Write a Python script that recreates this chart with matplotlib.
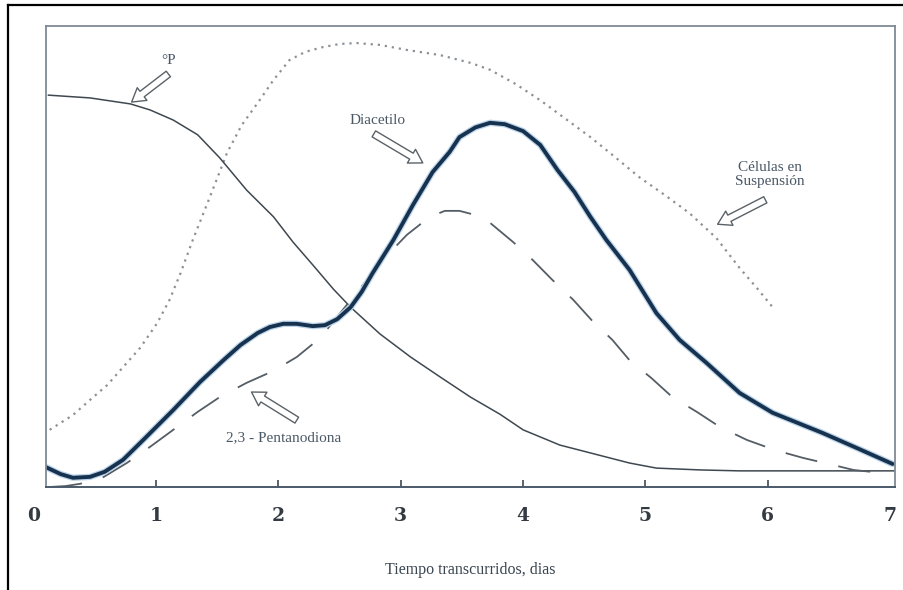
import matplotlib
matplotlib.use("Agg")
import matplotlib.pyplot as plt
from matplotlib.lines import Line2D

# curves (days, relative level 0-100)
p_x = [0.12, 0.46, 0.79, 0.95, 1.14, 1.34, 1.52, 1.74, 1.96, 2.12, 2.28, 2.45, 2.59, 2.83, 3.08,
       3.32, 3.57, 3.81, 4.00, 4.30, 4.68, 4.87, 5.09, 5.45, 5.77, 7.04]
p_y = [85.0, 84.4, 83.1, 81.8, 79.6, 76.4, 71.4, 64.4, 58.6, 53.1, 48.2, 42.9, 39.0, 33.2, 28.2,
       23.9, 19.5, 15.8, 12.4, 9.1, 6.5, 5.2, 4.1, 3.7, 3.5, 3.5]

dia_x = [0.10, 0.22, 0.32, 0.46, 0.58, 0.73, 0.91, 1.14, 1.36, 1.55, 1.69, 1.83, 1.93, 2.04, 2.15,
         2.28, 2.38, 2.48, 2.59, 2.68, 2.77, 2.94, 3.10, 3.26, 3.40, 3.48, 3.61, 3.73, 3.85, 4.00,
         4.14, 4.28, 4.42, 4.55, 4.68, 4.87, 5.09, 5.28, 5.50, 5.77, 6.04, 6.45, 6.75, 7.02]
dia_y = [4.3, 2.8, 2.0, 2.2, 3.3, 5.9, 10.6, 16.7, 22.8, 27.5, 30.8, 33.4, 34.7, 35.4, 35.4,
         34.9, 35.1, 36.4, 39.0, 42.3, 46.4, 53.6, 61.2, 68.3, 72.7, 75.9, 78.0, 79.0, 78.7, 77.2,
         74.2, 68.8, 64.0, 58.6, 53.6, 47.1, 37.7, 31.9, 26.9, 20.4, 16.1, 11.7, 8.2, 5.0]

pen_x = [0.13, 0.26, 0.38, 0.56, 0.76, 0.95, 1.14, 1.34, 1.52, 1.74, 1.96, 2.15, 2.34, 2.48, 2.61,
         2.79, 2.93, 3.05, 3.16, 3.24, 3.36, 3.48, 3.61, 3.73, 3.92, 4.08, 4.24, 4.41, 4.56, 4.73,
         4.87, 5.05, 5.22, 5.42, 5.61, 5.83, 6.06, 6.29, 6.53, 6.70, 6.84]
pen_y = [0.0, 0.2, 0.7, 2.0, 5.2, 8.7, 12.4, 16.3, 19.5, 22.6, 25.2, 28.2, 32.3, 36.9, 41.2,
         47.1, 51.4, 54.7, 57.0, 58.6, 59.9, 59.9, 59.0, 57.3, 53.1, 49.2, 44.9, 40.6, 36.2, 31.9,
         27.5, 23.6, 19.5, 16.3, 13.0, 10.2, 8.0, 6.3, 4.8, 3.7, 3.3]

cel_x = [0.13, 0.32, 0.46, 0.60, 0.73, 0.87, 1.01, 1.11, 1.20, 1.30, 1.42, 1.50, 1.58, 1.70, 1.83,
         1.96, 2.09, 2.22, 2.36, 2.50, 2.64, 2.83, 3.05, 3.32, 3.57, 3.73, 3.94, 4.14, 4.34, 4.55,
         4.75, 4.95, 5.16, 5.36, 5.58, 5.77, 5.91, 6.04]
cel_y = [12.4, 15.6, 18.9, 22.1, 26.0, 30.2, 35.6, 40.6, 46.4, 53.6, 61.6, 67.0, 72.5, 78.5, 83.3,
         88.3, 92.6, 94.4, 95.4, 96.1, 96.3, 95.9, 94.8, 93.7, 92.0, 90.5, 87.4, 83.9, 80.0, 75.9,
         71.6, 67.2, 63.3, 59.4, 54.0, 47.5, 43.2, 39.0]

ticks = [0, 1, 2, 3, 4, 5, 6, 7]
tick_labels = ["0", "1", "2", "3", "4", "5", "6", "7"]

fig = plt.figure(figsize=(9.04, 5.90), dpi=100)
ax = fig.add_axes([46/904, 103/590, 849/904, 461/590])

ax.plot(cel_x, cel_y, color="#8c9196", lw=1.6, linestyle=(0, (1, 2.2)))
ax.plot(p_x, p_y, color="#3f4850", lw=1.1)
ax.plot(pen_x, pen_y, color="#555d65", lw=1.3, linestyle=(0, (18, 12)))
ax.plot(dia_x, dia_y, color="#bcd4ea", lw=4.6, solid_capstyle="round", solid_joinstyle="round")
ax.plot(dia_x, dia_y, color="#17324f", lw=2.8, solid_capstyle="round", solid_joinstyle="round")

ax.set_xlim(0.10, 7.04)
ax.set_ylim(0, 100)
ax.set_yticks([])
ax.set_xticks(ticks[1:-1])
ax.tick_params(axis="x", direction="in", length=5, width=1.2, color="#404850", labelbottom=False)
for s in ["left", "top", "right"]:
    ax.spines[s].set_color("#7f8a95")
    ax.spines[s].set_linewidth(1.3)
ax.spines["bottom"].set_color("#4a5a6a")
ax.spines["bottom"].set_linewidth(1.4)

for t, lab in zip(ticks, tick_labels):
    ax.text(t, -6.2, lab, ha="center", va="center", fontsize=13.5, fontweight="bold",
            family="DejaVu Serif", color="#333a42", clip_on=False)

fig.text(470/904, 1 - 570/590, "Tiempo transcurridos, dias", ha="center", va="center",
         fontsize=11.5, family="Liberation Serif", color="#3a4550")

arrow = dict(arrowstyle="simple,head_width=1.15,head_length=0.95,tail_width=0.5",
             fc="white", ec="#5a6268", lw=1.0, shrinkA=0, shrinkB=0)
txt = dict(fontsize=11, family="Liberation Serif", color="#4a5866")

ax.text(1.10, 92.6, "°P", ha="center", va="center", **txt)
ax.annotate("", xy=(0.80, 83.5), xytext=(1.10, 89.6), arrowprops=arrow)

ax.text(2.81, 79.6, "Diacetilo", ha="center", va="center", **txt)
ax.annotate("", xy=(3.18, 70.3), xytext=(2.78, 76.6), arrowprops=arrow)

ax.text(6.02, 67.7, "Células en\nSuspensión", ha="center", va="center", linespacing=1.1, **txt)
ax.annotate("", xy=(5.59, 57.0), xytext=(5.98, 62.3), arrowprops=arrow)

ax.text(2.04, 10.8, "2,3 - Pentanodiona", ha="center", va="center", **txt)
ax.annotate("", xy=(1.78, 20.6), xytext=(2.15, 14.5), arrowprops=arrow)

# outer picture frame (left and top edges visible)
fig.add_artist(Line2D([8/904, 8/904], [0, 1 - 5/590], color="black", lw=1.6))
fig.add_artist(Line2D([8/904, 1], [1 - 5/590, 1 - 5/590], color="black", lw=1.6))

fig.savefig("out.png", dpi=100)
